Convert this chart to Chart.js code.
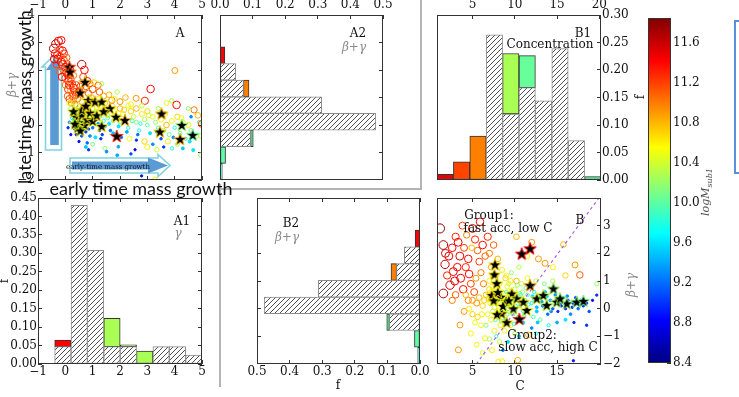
<!DOCTYPE html>
<html><head><meta charset="utf-8">
<script src="https://cdn.jsdelivr.net/npm/chart.js@4.4.1/dist/chart.umd.min.js"></script>
<style>
html,body{margin:0;padding:0;background:#fff}
body{width:739px;height:397px;overflow:hidden;position:relative;font-family:"DejaVu Serif",serif}
canvas{position:absolute}
.t{position:absolute;white-space:nowrap;line-height:1;font-size:12px;color:#111}
.g{color:#8a8a8a;font-style:italic}
.big{font-family:Lato,"Open Sans",sans-serif;font-size:18px;color:#111}
.ln{position:absolute;background:#b4b4b4}
</style></head><body>
<script>
// ================= DATA =================
// Panel A: early growth (gamma) vs late growth (beta+gamma), colour = logM_sub1
const aGamma = [
 -0.42,-0.35,-0.25,-0.15,-0.38,-0.30,-0.28,-0.20,-0.15,-0.10,
 -0.05,0.00,-0.08,0.05,0.10,0.00,0.12,0.20,0.15,0.25,
 0.10,0.20,0.30,0.35,0.25,0.40,0.45,0.30,0.50,0.55,
 0.60,0.70,0.65,0.80,0.75,0.90,1.00,1.05,1.20,1.33,
 1.25,1.40,0.85,0.95,-0.05,0.05,-0.20,-0.32,-0.22,-0.12,
 0.00,0.08,0.15,0.22,0.35,-0.40,-0.10,0.40,0.30,0.18,
 0.15,0.20,0.25,0.30,0.30,0.35,0.40,0.45,0.50,0.50,
 0.55,0.60,0.65,0.70,0.70,0.75,0.80,0.85,0.90,0.95,
 1.00,1.00,1.10,1.15,1.20,1.25,1.30,1.35,1.40,1.45,
 1.50,1.55,1.60,1.65,0.20,0.10,0.15,0.40,0.60,0.90,
 1.10,1.30,0.50,0.80,1.00,1.45,0.85,1.51,1.94,0.75,
 1.70,1.80,1.90,2.00,2.00,2.10,2.20,2.30,2.40,2.50,
 2.60,2.70,2.80,2.90,3.00,3.10,3.20,3.30,3.40,3.50,
 3.60,3.70,3.80,3.90,4.00,4.10,4.20,4.30,4.40,4.50,
 4.60,4.80,4.90,1.75,2.05,2.35,2.60,2.90,3.00,3.20,
 3.35,3.50,3.60,3.75,3.90,4.10,4.30,4.68,4.95,2.79,
 3.28,1.90,2.55,2.40,2.59,3.12,2.91,3.89,4.07,4.01,
 4.71,4.99,3.70,2.20,1.90,2.40,1.70,3.40,4.50,4.95,
 4.60,1.60,1.80,2.00,1.45,2.30,2.60,2.80,3.00,
 0.25,0.35,0.45,0.55,0.65,0.75,0.85,0.95,1.05,1.15,
 1.25,1.35,1.55,1.75,1.95,2.15,2.45,2.75,3.05,3.35,
 3.65,3.95,4.25,4.55,4.85,2.25,2.65,0.60,0.90,1.20];
const aBetaGamma = [
 2.78,2.95,3.05,3.08,2.60,2.55,2.40,2.50,2.30,2.20,
 2.35,2.10,2.00,1.90,1.80,1.70,1.60,1.65,1.45,1.50,
 1.30,1.25,1.35,1.20,1.05,1.10,0.95,0.90,1.20,1.40,
 2.20,2.00,1.75,1.60,1.40,1.50,1.30,1.55,1.45,1.50,
 1.20,1.05,1.15,1.00,2.60,2.45,2.75,2.20,1.95,1.75,
 1.45,1.05,0.95,0.80,0.75,2.40,2.70,1.45,1.80,2.00,
 0.80,0.60,0.40,0.20,0.00,-0.15,0.70,0.50,0.30,0.10,
 -0.10,0.60,0.40,0.20,-0.05,-0.25,0.75,0.50,0.30,0.10,
 -0.10,0.60,0.45,0.25,0.05,-0.20,0.70,0.35,0.15,-0.05,
 0.50,0.25,0.05,-0.20,-0.35,-0.10,0.10,-0.35,-0.40,-0.40,
 -0.45,-0.50,-0.60,-0.65,-0.70,-0.85,-0.90,-0.97,-0.79,-0.80,
 0.70,0.50,0.30,0.10,0.60,0.40,0.20,-0.10,0.50,0.30,
 0.10,-0.20,0.40,0.20,0.00,-0.30,0.30,0.10,-0.10,0.20,
 -0.20,0.00,-0.35,0.15,-0.10,0.30,-0.30,0.10,-0.50,0.00,
 -0.20,-0.40,0.10,-0.30,-0.45,-0.50,-0.55,-0.60,-0.80,-0.70,
 -0.90,-0.50,-0.80,-0.60,-0.85,-0.70,-0.85,-0.91,-1.09,-1.85,
 -1.98,-1.10,-0.90,-1.05,0.97,1.31,0.88,0.88,0.73,1.98,
 0.55,0.04,0.80,1.00,1.20,0.75,0.90,0.60,0.60,-0.40,
 0.30,1.10,0.95,0.85,0.80,0.70,0.60,0.70,0.50,
 0.25,0.55,-0.05,0.45,0.15,0.55,-0.15,0.40,0.20,0.65,
 0.30,-0.35,0.35,0.15,-0.05,0.55,0.15,0.05,0.35,-0.25,
 0.40,-0.45,0.25,-0.60,0.35,-0.25,-0.35,0.85,0.95,0.95];
const aLogM = [
 11.7,11.6,11.5,11.4,11.4,11.3,11.5,11.2,11.4,11.5,
 11.2,11.4,11.1,11.5,11.3,11.2,11.4,11.1,11.4,11.2,
 11.3,11.0,11.4,11.2,11.1,11.3,11.0,10.9,11.4,11.2,
 11.6,11.4,11.2,11.3,11.1,11.0,11.2,10.7,11.0,10.3,
 11.1,10.9,11.1,10.8,11.3,11.1,11.2,11.2,11.1,11.4,
 11.0,11.1,11.2,10.9,11.0,11.5,11.4,11.2,11.0,11.3,
 10.6,10.2,9.8,9.5,9.2,9.0,10.4,10.0,9.7,9.4,
 9.1,10.3,9.9,9.6,9.3,9.0,10.5,10.1,9.8,9.5,
 9.2,10.4,10.0,9.7,9.4,9.0,10.6,10.2,9.8,9.5,
 10.5,10.0,9.6,9.2,8.8,9.0,9.3,8.9,9.1,9.3,
 9.6,9.0,8.9,9.2,10.1,10.2,9.0,9.3,9.4,9.5,
 10.7,10.5,10.3,10.0,10.8,10.6,10.2,9.8,10.7,10.4,
 10.1,9.7,10.6,10.3,10.0,9.6,10.5,10.2,9.9,10.6,
 10.3,10.8,10.1,10.5,9.8,10.7,10.0,10.4,9.7,10.6,
 10.2,10.5,10.0,9.5,9.2,10.5,9.0,10.7,10.6,9.3,
 10.4,9.1,9.0,10.6,9.8,10.2,9.5,9.6,10.2,8.9,
 10.6,9.4,8.8,9.1,10.9,11.4,11.3,10.3,11.4,10.9,
 11.0,11.2,10.5,10.8,10.3,10.6,11.0,10.3,10.2,10.3,
 9.3,10.8,10.6,10.9,10.7,10.5,10.8,10.4,10.7,
 9.7,10.2,9.1,10.1,9.6,10.3,9.0,10.0,9.7,10.5,
 9.9,9.0,10.3,10.1,9.6,10.7,10.0,9.8,10.4,9.5,
 10.6,9.3,10.5,9.6,10.8,9.4,9.2,10.8,10.7,10.6];
// Panel A highlighted galaxies (stars)
const aStarGamma = [0.15,0.17,0.72,0.54,0.84,1.09,1.33,1.63,1.85,2.18,1.88,1.33,3.52,3.46,4.26,4.20,4.66,
 0.40,0.50,0.60,0.70,0.45,0.80,0.90,1.00,0.60,0.35,0.55,1.15,0.75,1.40,0.30];
const aStarBetaGamma = [2.12,1.94,1.57,1.18,0.91,0.85,0.85,0.61,0.30,0.18,-0.40,-0.04,0.42,-0.24,0.00,-0.51,-0.36,
 0.30,0.10,0.35,0.00,-0.10,0.20,0.45,0.15,0.55,0.05,-0.20,0.35,0.70,0.50,0.50];
const aStarLogM = [11.2,11.1,10.8,10.9,10.6,10.7,10.6,10.7,10.6,10.8,11.3,10.6,10.8,10.7,10.2,10.8,10.0,
 10.5,10.5,10.6,10.4,10.5,10.6,10.5,10.6,10.6,10.4,10.5,10.6,10.7,10.6,10.5];

// Panel B: concentration C vs beta+gamma
const bConc = [
 1.15,1.55,1.75,1.55,2.34,2.73,2.20,2.60,3.00,3.30,
 3.50,3.20,3.60,2.90,3.90,4.31,4.00,4.50,4.20,4.60,
 4.80,5.00,5.30,5.60,5.89,5.80,6.00,6.20,6.50,6.80,
 6.30,5.20,4.50,5.50,5.00,3.52,3.33,6.48,6.00,5.60,
 7.00,7.20,7.50,8.00,8.50,9.00,6.60,7.00,2.60,3.00,
 4.00,2.00,1.80,3.80,4.90,7.20,7.60,8.20,6.80,6.20,
 5.40,4.20,4.60,5.00,5.30,5.80,6.10,6.40,4.80,5.50,
 6.20,7.00,6.60,7.80,8.50,7.00,7.30,7.60,7.90,8.20,
 8.50,8.80,9.10,9.40,9.70,10.00,10.30,10.60,10.90,11.20,
 7.10,7.40,8.00,8.60,9.20,9.80,10.40,11.00,8.90,9.50,
 10.20,10.80,7.80,9.60,10.50,11.50,12.00,12.50,8.30,8.80,
 9.50,10.00,9.20,10.50,11.61,10.35,8.06,7.30,8.60,12.00,
 12.70,11.50,12.00,12.30,12.60,13.00,13.30,13.60,13.90,14.20,
 14.50,14.80,15.10,15.40,15.70,16.00,16.30,16.60,16.90,17.20,
 17.50,17.80,18.10,18.50,18.80,19.20,19.70,19.70,17.00,16.00,
 15.00,14.00,13.00,12.20,11.80,13.50,14.50,16.93,18.50,11.00,
 12.50,17.13,15.75,13.58,17.70,16.00,12.80,10.20,14.50,11.50,
 12.00,7.50,8.10,8.40,9.00,9.30,9.90,10.70,11.40,7.70,8.90,
 7.20,7.60,8.20,8.70,9.10,9.60,10.10,10.60,11.10,11.60,
 12.10,12.60,13.20,13.80,14.30,14.90,15.50,16.20,16.80,17.40,
 7.90,8.40,9.30,10.30,11.30,12.30,6.90,7.40,8.80,9.90];
const bBetaGamma = [
 2.90,2.30,1.60,0.55,0.85,1.34,1.90,2.20,2.60,2.40,
 1.90,1.50,1.10,1.00,0.70,2.66,2.20,1.80,1.50,1.25,
 0.90,2.90,2.50,2.10,3.14,1.70,1.30,2.30,1.90,2.60,
 0.90,0.60,0.30,0.20,-0.20,-0.59,-1.49,-1.07,-0.60,-0.30,
 2.00,1.50,2.30,1.80,1.40,1.20,0.50,0.70,0.30,0.50,
 -0.10,1.20,2.00,3.00,2.20,-0.40,-0.80,-1.20,-0.20,0.10,
 1.10,0.50,0.00,0.30,-0.50,0.40,-0.20,0.30,-0.90,-1.30,
 -1.60,-1.10,-0.60,-1.00,-1.90,1.00,0.80,0.60,0.30,0.90,
 0.60,0.40,0.80,0.50,0.20,0.70,0.40,0.10,0.60,0.30,
 0.20,-0.10,-0.30,-0.10,0.00,-0.20,-0.30,-0.10,1.10,1.00,
 1.00,0.90,1.20,1.30,1.50,1.10,0.80,1.00,-0.60,-0.80,
 -0.60,-0.90,-1.20,-1.00,-0.95,-1.86,-1.92,-1.50,-1.50,-0.70,
 -0.50,0.50,0.20,0.60,-0.10,0.40,0.10,0.60,-0.20,0.30,
 0.00,0.50,-0.10,0.20,0.40,0.00,0.30,-0.20,0.20,0.40,
 0.00,0.30,0.10,0.20,-0.10,0.30,0.49,0.90,-0.50,-0.40,
 -0.50,-0.60,-0.40,-0.30,0.90,0.90,1.00,-1.88,-0.60,-0.50,
 -0.90,1.58,2.32,1.64,1.22,1.20,1.80,2.60,1.50,1.90,
 2.40,0.40,0.10,0.30,0.60,0.20,0.40,0.50,0.00,-0.40,-0.40,
 0.60,0.05,0.50,0.20,-0.20,0.65,0.10,0.55,-0.25,0.15,
 0.45,0.05,0.25,0.45,-0.10,0.30,0.10,0.45,0.05,0.20,
 0.75,-0.45,0.90,0.85,0.75,0.35,0.35,1.20,0.00,-0.55];
const bLogM = [
 11.8,11.7,11.6,11.7,11.6,11.5,11.5,11.4,11.3,11.5,
 11.5,11.4,11.5,11.5,11.4,11.0,11.2,11.4,11.3,11.4,
 11.2,11.5,11.3,11.1,11.4,11.2,11.0,11.4,11.1,11.3,
 11.0,11.2,11.0,10.9,10.7,10.9,10.9,10.6,10.5,10.7,
 11.0,10.8,11.1,10.8,10.6,10.5,10.8,10.7,11.0,11.1,
 10.9,11.3,11.5,11.2,10.8,10.6,10.6,10.4,10.5,10.7,
 10.9,10.8,10.6,10.9,10.5,10.8,10.6,10.7,10.6,10.5,
 10.4,10.3,10.2,9.8,10.6,10.6,10.5,10.4,10.3,10.6,
 10.4,10.2,10.5,10.3,10.1,10.4,10.2,10.0,10.3,10.1,
 10.5,10.4,10.2,10.1,10.0,9.9,9.8,9.7,10.7,10.6,
 10.8,10.4,10.6,10.2,10.3,10.5,10.2,10.3,10.6,10.5,
 10.4,10.3,9.6,9.5,10.8,10.8,10.6,10.6,9.3,9.3,
 9.5,9.9,9.7,9.8,9.5,9.6,9.3,9.5,9.2,9.4,
 9.1,9.3,9.0,9.2,9.4,8.9,9.1,9.3,8.9,9.0,
 9.2,8.8,9.0,8.9,9.1,8.8,9.0,10.2,9.0,9.6,
 9.4,9.7,10.0,9.9,10.0,10.1,10.3,8.9,9.0,9.6,
 9.8,10.9,10.8,10.9,11.1,10.7,10.9,10.8,10.6,10.6,
 10.9,10.7,10.6,10.1,9.9,9.7,9.6,9.8,9.5,10.0,9.6,
 10.6,10.4,10.3,10.2,10.0,10.4,9.9,10.1,9.7,9.8,
 9.6,9.5,9.4,9.6,9.3,9.2,9.0,9.3,8.9,9.1,
 10.5,10.1,10.4,10.2,10.0,9.8,10.7,10.7,10.2,9.9];
const bStarConc = [7.66,7.59,7.86,7.27,8.34,8.97,9.64,10.82,11.81,10.54,11.81,9.04,8.45,9.83,11.41,12.60,13.38,14.57,14.96,16.15,17.33,18.12,13.78,15.36,10.23,11.02,7.50,8.00,8.60,7.90,9.30];
const bStarBetaGamma = [1.60,1.24,0.92,0.49,0.43,0.28,0.55,1.99,2.18,-0.37,0.85,-0.49,-0.17,0.01,-0.05,0.37,0.49,0.73,0.25,0.19,0.25,0.28,0.13,0.37,0.37,0.25,0.30,0.60,0.10,-0.20,0.30];
const bStarLogM = [10.7,10.6,10.6,10.6,10.6,10.5,10.6,11.4,11.4,11.3,10.9,10.6,10.6,10.5,10.5,10.4,10.4,10.2,10.3,10.2,10.1,10.1,10.3,10.2,10.5,10.5,10.6,10.6,10.5,10.6,10.5];
// dividing line in panel B
const divLineConc = [5.45, 19.95];
const divLineBetaGamma = [-2.0, 4.0];

// Histograms of beta+gamma (A2, B2): bin centres, fraction f (all) and f (highlighted)
const bgBinCenter = [-1.6975,-1.0925,-0.4875,0.1175,0.7225,1.3275,1.9325,2.5375,3.1425];
const bgHatchedF = [0,0,0.094,0.478,0.312,0.072,0.048,0,0];
const bgColoredF = [0.007,0.017,0.008,0,0,0.017,0,0.015,0.002];
const bgColoredLogM = [9.85,10.0,10.05,null,null,10.99,null,11.42,11.8];
// Histogram of gamma (A1)
const gammaBinCenter = [-0.0905,0.5085,1.1075,1.7065,2.3055,2.9045,3.5035,4.1025,4.7015];
const gammaHatchedF = [0.047,0.43,0.308,0.047,0.047,0,0.047,0.047,0.024];
const gammaColoredF = [0.018,0,0,0.077,0.005,0.035,0,0,0];
const gammaColoredLogM = [11.42,null,null,10.27,10.27,10.27,null,null,null];
// Histogram of concentration (B1)
const concBinCenter = [1.77,3.71,5.65,7.59,9.53,11.47,13.41,15.35,17.29,19.23];
const concHatchedF = [0,0,0,0.264,0.12,0.168,0.144,0.239,0.0715,0];
const concColoredF = [0.0103,0.033,0.080,0,0.110,0.058,0,0,0,0.006];
const concColoredLogM = [11.5,11.19,10.99,null,10.27,10.04,null,null,null,10.0];

// Tick values
const gammaTicks = [-1,0,1,2,3,4,5];
const bgTicks = [-2,-1,0,1,2,3,4];
const bgInnerTicks = [-1,0,1,2,3];
const bgBTicks = [-2,-1,0,1,2,3];
const fTicks = [0,0.1,0.2,0.3,0.4,0.5];
const fA1Ticks = [0,0.05,0.1,0.15,0.2,0.25,0.3,0.35,0.4,0.45];
const fB1Ticks = [0,0.05,0.1,0.15,0.2,0.25,0.3];
const concTicksTop = [5,10,15,20];
const concTicksBottom = [5,10,15];
const logMTicks = [8.4,8.8,9.2,9.6,10.0,10.4,10.8,11.2,11.6];
const logMRange = [8.4, 11.85];

// ================= HELPERS =================
Chart.defaults.font.family = 'DejaVu Serif';
function jet(m){
  const t=Math.min(1,Math.max(0,(m-logMRange[0])/(logMRange[1]-logMRange[0])));
  const f=v=>Math.round(255*Math.min(1,Math.max(0,v)));
  return 'rgb('+f(1.5-Math.abs(4*t-3))+','+f(1.5-Math.abs(4*t-2))+','+f(1.5-Math.abs(4*t-1))+')';
}
function rad(m){ const d=Math.max(0,m-8.4); return 1.1+0.3*d*d; }
const fmt = d => v => (Math.abs(v)<1e-9?0:v).toFixed(d).replace('-','\u2212');
const tickFont = {family:'DejaVu Serif', size:12};

function axis(pos, min, max, ticks, size, o){
  o = o || {};
  const horiz = (pos==='top'||pos==='bottom');
  return {
    type:'linear', axis: horiz?'x':'y', position:pos, min, max, reverse:!!o.reverse, stacked:!!o.stacked,
    offset:false,
    grid:{drawOnChartArea:false, drawTicks:ticks.length>0, tickLength:-4, color:'#333', lineWidth:1, offset:false},
    border:{display:false},
    ticks:{display:!!o.labels, font:tickFont, color:'#111', padding:(o.pad===undefined?7:o.pad), autoSkip:false, maxRotation:0, minRotation:0, callback:o.fmt||(v=>v)},
    afterBuildTicks: s => { s.ticks = ticks.map(v=>({value:v})); },
    afterFit: s => { if(horiz) s.height=size; else s.width=size; s.paddingTop=0; s.paddingBottom=0; s.paddingLeft=0; s.paddingRight=0; }
  };
}

const framePlugin = {id:'frame', afterDatasetsDraw(ch){
  const a=ch.chartArea, c=ch.ctx; c.save(); c.strokeStyle='#333'; c.lineWidth=1;
  c.strokeRect(Math.round(a.left)+0.5, Math.round(a.top)+0.5, Math.round(a.right-a.left)-1, Math.round(a.bottom-a.top)-1);
  c.restore();
}};

function mk(left, top, w, h, cfg){
  const c=document.createElement('canvas'); c.width=w; c.height=h;
  c.style.left=left+'px'; c.style.top=top+'px'; c.style.width=w+'px'; c.style.height=h+'px';
  document.body.appendChild(c);
  cfg.options = Object.assign({responsive:false, maintainAspectRatio:false, animation:false, events:[], devicePixelRatio:1,
    plugins:{legend:{display:false}, tooltip:{enabled:false}}}, cfg.options);
  cfg.plugins = (cfg.plugins||[]).concat([framePlugin]);
  return new Chart(c, cfg);
}

// hatch pattern
const HATCH = (function(){
  const s=5, c=document.createElement('canvas'); c.width=s; c.height=s;
  const x=c.getContext('2d'); x.fillStyle='#fff'; x.fillRect(0,0,s,s);
  x.strokeStyle='#3c3c3c'; x.lineWidth=0.9; x.beginPath();
  x.moveTo(0,s); x.lineTo(s,0); x.moveTo(-1,1); x.lineTo(1,-1); x.moveTo(s-1,s+1); x.lineTo(s+1,s-1); x.stroke();
  return x.createPattern(c,'repeat');
})();

const starCache={};
function starImg(color){
  if(starCache[color]) return starCache[color];
  const c=document.createElement('canvas'); c.width=c.height=16;
  const x=c.getContext('2d'); x.beginPath();
  for(let i=0;i<10;i++){ const r=i%2?2.7:6.6; const a=-Math.PI/2+i*Math.PI/5;
    const px=8+r*Math.cos(a), py=8.6+r*Math.sin(a); i?x.lineTo(px,py):x.moveTo(px,py); }
  x.closePath(); x.fillStyle='#000'; x.fill(); x.strokeStyle=color; x.lineWidth=0.9; x.stroke();
  return starCache[color]=c;
}

function circles(xs, ys, ms){
  return {type:'scatter', data:xs.map((v,i)=>({x:v,y:ys[i]})), pointStyle:'circle',
    pointRadius:ms.map(rad), pointBorderColor:ms.map(jet),
    pointBackgroundColor:ms.map(m=>rad(m)<1.6?jet(m):'rgba(0,0,0,0)'), pointBorderWidth:1, showLine:false};
}
function stars(xs, ys, ms){
  return {type:'scatter', data:xs.map((v,i)=>({x:v,y:ys[i]})), pointStyle:ms.map(m=>starImg(jet(m))), pointRadius:6, showLine:false};
}
function hist(centers, hatched, colored, coloredM, horiz){
  const pt=(c,v)=> horiz?{x:v,y:c}:{x:c,y:v};
  return [
    {data:centers.map((c,i)=>pt(c, hatched[i]||null)), backgroundColor:HATCH, borderColor:'#8c8c8c', borderWidth:1, borderSkipped:false, barPercentage:1, categoryPercentage:1},
    {data:centers.map((c,i)=>pt(c, colored[i]||null)), backgroundColor:coloredM.map(m=>m==null?'rgba(0,0,0,0)':jet(m)), borderColor:'#333', borderWidth:1, borderSkipped:false, barPercentage:1, categoryPercentage:1}
  ];
}

// arrows in panel A, anchored in data coordinates
const arrowDefs = [
  {from:[-0.433,-0.909], to:[-0.433,2.509], shaft:8, head:11.5, len:11, fill:null, stroke:'#7fd3de'},
  {from:[-0.396,-0.727], to:[-0.396,2.436], shaft:4.3, head:8.5, len:12, fill:'#5b9bd5', stroke:null},
  {from:[0.171,-1.473], to:[3.83,-1.473], shaft:7.5, head:11, len:12, fill:null, stroke:'#7fd3de'},
  {from:[0.244,-1.473], to:[3.757,-1.473], shaft:4, head:8, len:20, fill:'#5b9bd5', stroke:null}
];
const arrowPlugin = {id:'arrows', beforeDatasetsDraw(ch){
  const xs=ch.scales.x, ys=ch.scales.y, c=ch.ctx;
  arrowDefs.forEach(a=>{
    const x0=xs.getPixelForValue(a.from[0]), y0=ys.getPixelForValue(a.from[1]);
    const x1=xs.getPixelForValue(a.to[0]), y1=ys.getPixelForValue(a.to[1]);
    const L=Math.hypot(x1-x0,y1-y0), ux=(x1-x0)/L, uy=(y1-y0)/L, nx=-uy, ny=ux;
    const hb=L-a.len; const P=(d,w)=>[x0+ux*d+nx*w, y0+uy*d+ny*w];
    const pts=[P(0,a.shaft),P(hb,a.shaft),P(hb,a.head),P(L,0),P(hb,-a.head),P(hb,-a.shaft),P(0,-a.shaft)];
    c.save(); c.beginPath(); pts.forEach((p,i)=>i?c.lineTo(p[0],p[1]):c.moveTo(p[0],p[1])); c.closePath();
    if(a.fill){c.fillStyle=a.fill; c.fill();}
    if(a.stroke){c.strokeStyle=a.stroke; c.lineWidth=1.6; c.stroke();}
    c.restore();
  });
}};

// ================= CHARTS =================
// Panel A (scatter)
mk(0,0,215,190,{type:'scatter',
  data:{datasets:[stars(aStarGamma,aStarBetaGamma,aStarLogM), circles(aGamma,aBetaGamma,aLogM)]},
  options:{scales:{
    x:axis('top',-1,5,gammaTicks,15,{labels:true,fmt:fmt(0),pad:7}),
    x2:axis('bottom',-1,5,gammaTicks,10),
    y:axis('left',-2,4,bgTicks,38,{labels:true,fmt:fmt(0),pad:7}),
    y2:axis('right',-2,4,bgTicks,13)}},
  plugins:[arrowPlugin]});

// Panel A2 (horizontal hist of beta+gamma)
mk(208,0,187,190,{type:'bar',
  data:{datasets:hist(bgBinCenter,bgHatchedF,bgColoredF,bgColoredLogM,true)},
  options:{indexAxis:'y', scales:{
    x:axis('top',0,0.5,fTicks,15,{labels:true,fmt:fmt(1),stacked:true,pad:7}),
    x2:axis('bottom',0,0.5,[],10),
    y:axis('left',-2,4,[],12,{stacked:true}),
    y2:axis('right',-2,4,bgInnerTicks,12)}}});

// Panel B1 (hist of concentration)
mk(425,0,220,190,{type:'bar',
  data:{datasets:hist(concBinCenter,concHatchedF,concColoredF,concColoredLogM,false)},
  options:{scales:{
    x:axis('top',0.8,20.2,concTicksTop,15,{labels:true,fmt:fmt(0),stacked:true,pad:7}),
    x2:axis('bottom',0.8,20.2,[],10),
    y:axis('right',0,0.3,fB1Ticks,44,{labels:true,fmt:fmt(2),stacked:true,pad:5}),
    y2:axis('left',0,0.3,[],12)}}});

// Panel A1 (hist of gamma)
mk(0,190,215,207,{type:'bar',
  data:{datasets:hist(gammaBinCenter,gammaHatchedF,gammaColoredF,gammaColoredLogM,false)},
  options:{scales:{
    x:axis('bottom',-1,5,gammaTicks,33,{labels:true,fmt:fmt(0),stacked:true,pad:5}),
    x2:axis('top',-1,5,gammaTicks,8),
    y:axis('left',0,0.45,fA1Ticks,38,{labels:true,fmt:fmt(2),stacked:true,pad:5}),
    y2:axis('right',0,0.45,fA1Ticks,13)}}});

// Panel B2 (mirrored hist of beta+gamma)
mk(243,190,189,207,{type:'bar',
  data:{datasets:hist(bgBinCenter,bgHatchedF,bgColoredF,bgColoredLogM,true)},
  options:{indexAxis:'y', scales:{
    x:axis('bottom',0,0.5,fTicks,33,{labels:true,fmt:fmt(1),stacked:true,reverse:true,pad:5}),
    x2:axis('top',0,0.5,fTicks,8,{reverse:true}),
    y:axis('left',-2,4,bgInnerTicks,14,{stacked:true}),
    y2:axis('right',-2,4,[],12)}}});

// Panel B (scatter C vs beta+gamma)
mk(425,190,220,207,{type:'scatter',
  data:{datasets:[stars(bStarConc,bStarBetaGamma,bStarLogM),
    {type:'line', data:divLineConc.map((v,i)=>({x:v,y:divLineBetaGamma[i]})), borderColor:'#a757d4', borderWidth:1.1, borderDash:[3,3], pointRadius:0, fill:false},
    circles(bConc,bBetaGamma,bLogM)]},
  options:{scales:{
    x:axis('bottom',0.8,20.2,concTicksBottom,33,{labels:true,fmt:fmt(0),pad:5}),
    x2:axis('top',0.8,20.2,concTicksBottom,8),
    y:axis('right',-2,4,bgBTicks,44,{labels:true,fmt:fmt(0),pad:6}),
    y2:axis('left',-2,4,[],12)}}});

// Colour bar
mk(640,0,80,397,{type:'bar',
  data:{labels:[''], datasets:[{data:[logMRange], borderColor:'#333', borderWidth:1, borderSkipped:false, barPercentage:1, categoryPercentage:1,
    backgroundColor:(ctx)=>{ const ch=ctx.chart, a=ch.chartArea; if(!a) return '#888';
      const g=ch.ctx.createLinearGradient(0,a.bottom,0,a.top);
      for(let i=0;i<=40;i++) g.addColorStop(i/40, jet(logMRange[0]+(logMRange[1]-logMRange[0])*i/40));
      return g; }}]},
  options:{layout:{padding:{left:8,top:18,bottom:34,right:0}}, scales:{
    x:{display:false},
    y:axis('right',logMRange[0],logMRange[1],logMTicks,49,{labels:true,fmt:fmt(1),pad:6})}}});

// ================= TEXT & DECOR =================
function txt(s, cx, cy, cls, rot, extra){
  const d=document.createElement('div'); d.className='t '+(cls||''); d.innerHTML=s;
  d.style.left=cx+'px'; d.style.top=cy+'px';
  d.style.transform='translate(-50%,-50%)'+(rot?' rotate('+rot+'deg)':'');
  if(extra) Object.assign(d.style, extra);
  document.body.appendChild(d);
}
function box(l,t,w,h,css){ const d=document.createElement('div'); d.className='ln'; Object.assign(d.style,{left:l+'px',top:t+'px',width:w+'px',height:h+'px'},css||{}); document.body.appendChild(d); }

box(219,184,2,203); box(219,188,203,2); box(420,0,2,190);
box(734,20,12,150,{background:'transparent',border:'2px solid #5b8fd9'});

txt('A',180,33);
txt('A2',358,33); txt('\u03b2+\u03b3',354,47,'g');
txt('B1',583,33); txt('Concentration',550,44);
txt('A1',182,221); txt('\u03b3',178,233,'g');
txt('B2',291,223); txt('\u03b2+\u03b3',287,237,'g');
txt('Group1:',489,215); txt('fast acc, low C',508,228); txt('B',580,220);
txt('Group2:',532,335); txt('slow acc, high C',548,347);
txt('C',520,386); txt('f',338,385);
txt('f',4,281,'',-90); txt('f',640,97,'',-90);
txt('\u03b2+\u03b3',631,285,'g',-90);
txt('\u03b2+\u03b3',12,85,'g',-90);
txt('<i>logM</i><sub style="font-size:8px;font-style:italic">sub1</sub>',707,192,'',-90,{fontSize:'11px',color:'#444'});
txt('early-time mass growth',108,167,'',0,{fontSize:'7px'});
txt('late time mass growth',24,97,'big',-90);
txt('early time mass growth',141,188,'big');
</script></body></html>
